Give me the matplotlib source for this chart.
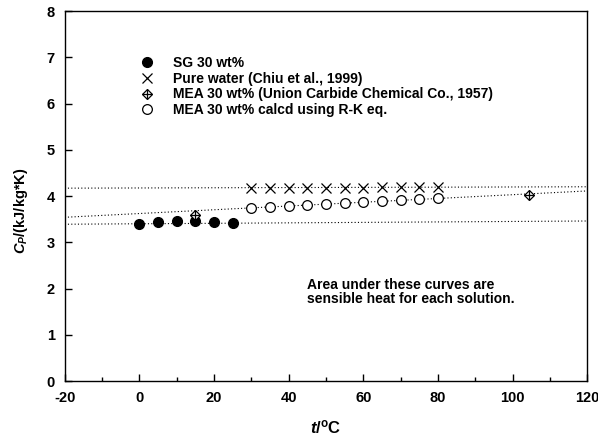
import numpy as np
import matplotlib
matplotlib.use("Agg")
import matplotlib.pyplot as plt
from matplotlib.lines import Line2D
from matplotlib.ticker import MultipleLocator

plt.rcParams['font.family'] = ['Liberation Sans', 'DejaVu Sans']
plt.rcParams['font.weight'] = 'bold'
plt.rcParams['axes.labelweight'] = 'bold'
plt.rcParams['axes.unicode_minus'] = False
plt.rcParams['mathtext.fontset'] = 'custom'
plt.rcParams['mathtext.rm'] = 'Liberation Sans:bold'
plt.rcParams['mathtext.it'] = 'Liberation Sans:bold:italic'
plt.rcParams['mathtext.bf'] = 'Liberation Sans:bold'

# SG 30 wt%
sg_t = [0, 5, 10, 15, 20, 25]
sg_cp = [3.39, 3.43, 3.46, 3.45, 3.44, 3.42]

# pure water
water_t = [30, 35, 40, 45, 50, 55, 60, 65, 70, 75, 80]
water_cp = [4.18, 4.18, 4.18, 4.18, 4.18, 4.18, 4.18, 4.19, 4.19, 4.19, 4.19]

# MEA 30 wt% (Union Carbide)
uc_t = [15, 104.5]
uc_cp = [3.60, 4.02]

# MEA 30 wt% calcd using R-K eq.
rk_t = [30, 35, 40, 45, 50, 55, 60, 65, 70, 75, 80]
rk_cp = [3.75, 3.77, 3.79, 3.81, 3.83, 3.85, 3.88, 3.90, 3.92, 3.94, 3.96]

# dotted trend lines (end points)
fit_t = [-20, 120]
fit_sg = [3.39, 3.46]
fit_mea = [3.54, 4.11]
fit_water = [4.17, 4.20]

fig = plt.figure(figsize=(5.98, 4.41), dpi=100)
ax = fig.add_axes([0.108, 0.136, 0.874, 0.839])

dot = dict(color='black', linestyle=(0, (1, 2)), linewidth=0.8)
ax.plot(fit_t, fit_sg, **dot)
ax.plot(fit_t, fit_mea, **dot)
ax.plot(fit_t, fit_water, **dot)

ax.plot(sg_t, sg_cp, 'o', color='black', markersize=7, linestyle='none')
ax.plot(water_t, water_cp, 'x', color='black', markersize=6.5, markeredgewidth=0.9, linestyle='none')
ax.plot(rk_t, rk_cp, 'o', markerfacecolor='white', markeredgecolor='black', markersize=7,
        markeredgewidth=0.9, linestyle='none')
ax.plot(uc_t, uc_cp, 'D', markerfacecolor='white', markeredgecolor='black', markersize=5.5,
        markeredgewidth=0.9, linestyle='none')
ax.plot(uc_t, uc_cp, '+', color='black', markersize=7, markeredgewidth=0.9, linestyle='none')

ax.set_xlim(-20, 120)
ax.set_ylim(0, 8)
ax.xaxis.set_major_locator(MultipleLocator(20))
ax.xaxis.set_minor_locator(MultipleLocator(10))
ax.yaxis.set_major_locator(MultipleLocator(1))
ax.tick_params(axis='both', which='both', direction='in', labelsize=10.5)
ax.tick_params(axis='x', which='major', pad=7)
ax.tick_params(axis='y', which='major', pad=7)
ax.tick_params(axis='both', which='major', length=5, width=1)
ax.tick_params(axis='x', which='minor', length=3, width=1)
for s in ax.spines.values():
    s.set_linewidth(1)

ax.set_xlabel(r'$t$/$^{\mathrm{o}}$C', fontsize=12)
ax.set_ylabel(r'$C_P$/(kJ/kg*K)', fontsize=10.5)
ax.xaxis.set_label_coords(0.5, -0.102)
ax.yaxis.set_label_coords(-0.066, 0.46)

h_sg = Line2D([], [], marker='o', color='black', markersize=7, linestyle='none')
h_w = Line2D([], [], marker='x', color='black', markersize=6.5, markeredgewidth=0.9, linestyle='none')
h_ucd = Line2D([], [], marker='D', markerfacecolor='white', markeredgecolor='black', markersize=5.5,
               markeredgewidth=0.9, linestyle='none')
h_ucp = Line2D([], [], marker='+', color='black', markersize=7, markeredgewidth=0.9, linestyle='none')
h_rk = Line2D([], [], marker='o', markerfacecolor='white', markeredgecolor='black', markersize=7,
              markeredgewidth=0.9, linestyle='none')
ax.legend([h_sg, h_w, (h_ucd, h_ucp), h_rk],
          ['SG 30 wt%', 'Pure water (Chiu et al., 1999)',
           'MEA 30 wt% (Union Carbide Chemical Co., 1957)', 'MEA 30 wt% calcd using R-K eq.'],
          loc='upper left', bbox_to_anchor=(0.125, 0.897), frameon=False, fontsize=10,
          handlelength=1.5, handletextpad=1.1, labelspacing=0.12, borderpad=0)

ax.text(45, 2.22, 'Area under these curves are\nsensible heat for each solution.',
        fontsize=10, ha='left', va='top', linespacing=1.0)

fig.savefig('out.png', dpi=100)
